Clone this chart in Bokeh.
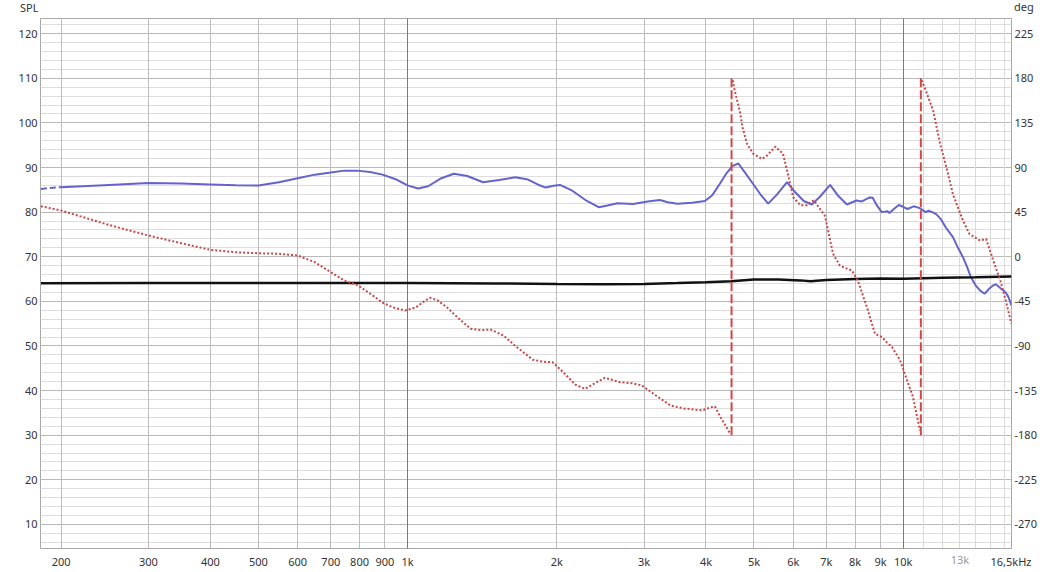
import numpy as np
from bokeh.plotting import figure
from bokeh.layouts import column
from bokeh.models import Range1d, LinearAxis, FixedTicker, Grid, Div
from bokeh.embed import file_html
from bokeh.resources import INLINE

# ---------------- data ----------------
spl_freq = [182, 190, 200, 250, 300, 350, 400, 450, 500, 550, 600, 650, 700, 745, 790, 840, 890, 950,
            1000, 1050, 1100, 1170, 1240, 1320, 1420, 1530, 1650, 1750, 1830, 1900, 1970, 2030,
            2150, 2300, 2430, 2530, 2650, 2850, 3050, 3230, 3350, 3500, 3750, 3980, 4120, 4270,
            4400, 4520, 4650, 4800, 4980, 5150, 5340, 5550, 5830, 6050, 6300, 6540, 6800, 7120,
            7400, 7700, 8050, 8250, 8560, 8680, 8850, 9050, 9300, 9380, 9600, 9800, 10000, 10200,
            10500, 10800, 11100, 11250, 11450, 11670, 11900, 12200, 12600, 12900, 13200, 13450,
            13700, 14000, 14300, 14600, 14900, 15200, 15400, 15700, 16100, 16300, 16540]
spl_db = [85.2, 85.4, 85.6, 86.1, 86.5, 86.4, 86.2, 86.0, 85.95, 86.7, 87.6, 88.4, 88.9, 89.3, 89.3,
          89.0, 88.4, 87.3, 86.0, 85.3, 85.8, 87.6, 88.6, 88.1, 86.7, 87.2, 87.8, 87.3, 86.2,
          85.5, 85.9, 86.1, 84.8, 82.5, 81.1, 81.5, 82.0, 81.8, 82.4, 82.7, 82.2, 81.9, 82.1,
          82.5, 83.8, 86.4, 88.7, 90.3, 90.9, 88.8, 86.3, 84.0, 81.9, 83.8, 86.7, 84.5, 82.5,
          81.7, 83.5, 86.1, 83.6, 81.7, 82.6, 82.4, 83.3, 83.2, 81.5, 80.0, 80.2, 79.8, 80.8,
          81.6, 81.2, 80.7, 81.3, 80.9, 80.0, 80.3, 80.0, 79.5, 78.5, 76.5, 74.4, 72.0, 69.9,
          67.8, 65.4, 63.6, 62.4, 61.7, 62.8, 63.6, 63.8, 63.0, 62.0, 61.0, 59.1]

ref_freq = [182, 300, 500, 1000, 1500, 2000, 2500, 3000, 3500, 4000, 4500, 5000, 5600, 6200, 6500,
            7000, 8000, 9000, 10000, 11000, 12000, 14000, 16540]
ref_db = [64.05, 64.1, 64.1, 64.1, 64.0, 63.9, 63.85, 63.9, 64.1, 64.3, 64.5, 64.9, 64.9, 64.7,
          64.5, 64.8, 65.0, 65.1, 65.05, 65.2, 65.3, 65.4, 65.55]

phase_freq = [182, 200, 250, 300, 350, 400, 450, 500, 550, 600, 650, 700, 745, 795, 850, 894, 940,
              990, 1040, 1080, 1110, 1150, 1200, 1260, 1340, 1410, 1470, 1560, 1650, 1790, 1880,
              1960, 2060, 2180, 2280, 2380, 2500, 2600, 2680, 2830, 2970, 3150, 3390, 3600, 3930,
              4080, 4170, 4280, 4400, 4480,
              4530, 4570, 4680, 4740, 4840, 4980, 5190, 5310, 5520, 5720, 5830, 6000, 6200, 6400,
              6600, 6800, 6950, 7220, 7450, 7650, 7880, 8100, 8450, 8770, 9060, 9250, 9490, 9850,
              10170, 10460, 10810,
              10900, 11100, 11500, 11870, 12270, 12600, 13200, 13600, 14300, 14700, 15200, 15700,
              16100, 16540]
phase_deg = [50.9, 46.6, 32.0, 21.4, 13.5, 7.0, 4.5, 3.5, 3.0, 1.2, -5.5, -15.6, -24, -29, -39,
             -46.9, -51.5, -54.2, -51, -45, -41.4, -44, -51, -61, -72.7, -74, -73.4, -79.4, -90,
             -103.9, -106, -106.3, -116.4, -129, -133.2, -128, -122.1, -124.5, -126.5, -127.5,
             -129.8, -139, -150, -153, -155, -152, -151, -161.8, -172, -178.8,
             178, 168, 147, 130.5, 114, 104, 98.7, 102, 111, 104, 87, 60, 52, 52,
             57, 48, 41.5, 2.9, -8.9, -11.5, -13.9, -24, -51, -77.7, -81, -86, -91, -104,
             -124, -141, -175.2,
             178, 168, 147, 114, 87, 63, 36.5, 23, 16.3, 18, -4, -24, -44, -67.6]

x_ticks = [200, 300, 400, 500, 600, 700, 800, 900, 1000, 2000, 3000, 4000, 5000, 6000, 7000,
           8000, 9000, 10000, 16500]
x_labels = ["200", "300", "400", "500", "600", "700", "800", "900", "1k", "2k", "3k", "4k", "5k",
            "6k", "7k", "8k", "9k", "10k", "16,5kHz"]
faint_tick_label = "13k"          # drawn lighter than the other frequency labels
spl_ticks = [10, 20, 30, 40, 50, 60, 70, 80, 90, 100, 110, 120]
deg_ticks = [-270, -225, -180, -135, -90, -45, 0, 45, 90, 135, 180, 225]

axis_titles = ["SPL", "deg"]

# ---------------- layout constants ----------------
FONT = "Noto Sans"
W = 1055
HEAD_H = 18

# ---------------- header with the two axis titles ----------------
spans = "".join(
    f"<span style='position:absolute;left:{left}px;top:{top}px'>{t}</span>"
    for t, left, top in zip(axis_titles, [20, 1014], [0, -1]))
head = Div(text=f"<div style=\"position:relative;width:{W}px;height:{HEAD_H}px;"
                f"font-family:'{FONT}';font-size:11px;color:#333333;line-height:15px\">{spans}</div>",
           width=W, height=HEAD_H, margin=0)

# ---------------- main figure ----------------
p = figure(x_axis_type="log", x_range=Range1d(181.7, 16540), y_range=Range1d(4.6, 123.4),
           frame_width=971, frame_height=530, output_backend="svg", toolbar_location=None,
           min_border_left=40, min_border_top=0, min_border_right=44, min_border_bottom=20,
           background_fill_color="white", border_fill_color="white")
p.extra_y_ranges = {"deg": Range1d((4.6 - 70) * 4.5, (123.4 - 70) * 4.5)}
p.outline_line_color = "#a8a8a8"
p.xgrid.visible = False
p.ygrid.visible = False

def add_grid(dim, ticks, color):
    g = Grid(dimension=dim, ticker=FixedTicker(ticks=ticks, minor_ticks=[]),
             grid_line_color=color, grid_line_width=1)
    p.add_layout(g, "center")

minor_y = [v for v in range(4, 124, 2) if v % 10 != 0]
add_grid(1, minor_y, "#dedede")
add_grid(1, spl_ticks, "#b9b9b9")
add_grid(0, [11000, 12000, 13000, 14000, 15000, 16000], "#dadada")
add_grid(0, [200, 300, 400, 500, 600, 700, 800, 900, 2000, 3000, 4000, 5000, 6000, 7000, 8000, 9000],
         "#bcbcbc")
add_grid(0, [1000, 10000], "#7a7a7a")

def style_axis(ax, ticks, overrides, standoff):
    ax.ticker = FixedTicker(ticks=ticks, minor_ticks=[])
    ax.major_label_overrides = overrides
    ax.axis_line_color = None
    ax.major_tick_line_color = None
    ax.minor_tick_line_color = None
    ax.major_tick_out = 0
    ax.major_tick_in = 0
    ax.major_label_standoff = standoff
    ax.major_label_text_font = FONT
    ax.major_label_text_font_size = "11px"
    ax.major_label_text_color = "#333333"

style_axis(p.xaxis[0], x_ticks, {t: l for t, l in zip(x_ticks, x_labels)}, 5)
style_axis(p.yaxis[0], spl_ticks, {t: str(t) for t in spl_ticks}, 3)
deg_axis = LinearAxis(y_range_name="deg")
style_axis(deg_axis, deg_ticks, {t: str(t) for t in deg_ticks}, 3)
p.add_layout(deg_axis, "right")

# ---------------- series ----------------
sf = np.array(spl_freq, dtype=float)
sd = np.array(spl_db, dtype=float)
lead = sf <= 200
p.line(sf[lead], sd[lead], line_color="#6464cc", line_width=2, line_dash="6 3")
p.line(sf[sf >= 200], sd[sf >= 200], line_color="#6464cc", line_width=2)

p.line(ref_freq, ref_db, line_color="#111111", line_width=2.5)

pf = np.array(phase_freq, dtype=float)
pdg = np.array(phase_deg, dtype=float)
xs, ys, wraps = [], [], []
for i in range(len(pf)):
    if i > 0 and abs(pdg[i] - pdg[i - 1]) > 180:
        xs.append(np.nan)
        ys.append(np.nan)
        wraps.append(float(np.sqrt(pf[i] * pf[i - 1])))
    xs.append(pf[i])
    ys.append(pdg[i])
p.line(xs, ys, y_range_name="deg", line_color="#c84848", line_width=2, line_dash="2 2")
p.segment(x0=wraps, y0=[-180] * len(wraps), x1=wraps, y1=[180] * len(wraps), y_range_name="deg",
          line_color="#d04848", line_width=2, line_dash="9 3")

# ---------------- faint 13k tick label (overlaid on the axis row) ----------------
foot = Div(text=f"<div style=\"position:relative;width:{W}px;height:1px;"
                f"font-family:'{FONT}';font-size:11px;color:#9a9a9a;line-height:15px\">"
                f"<span style='position:absolute;left:940px;width:40px;text-align:center;top:-30px'>"
                f"{faint_tick_label}</span></div>",
           width=W, height=1, margin=0)

layout = column(head, p, foot, spacing=0)
open("out.html", "w").write(file_html(layout, INLINE))
